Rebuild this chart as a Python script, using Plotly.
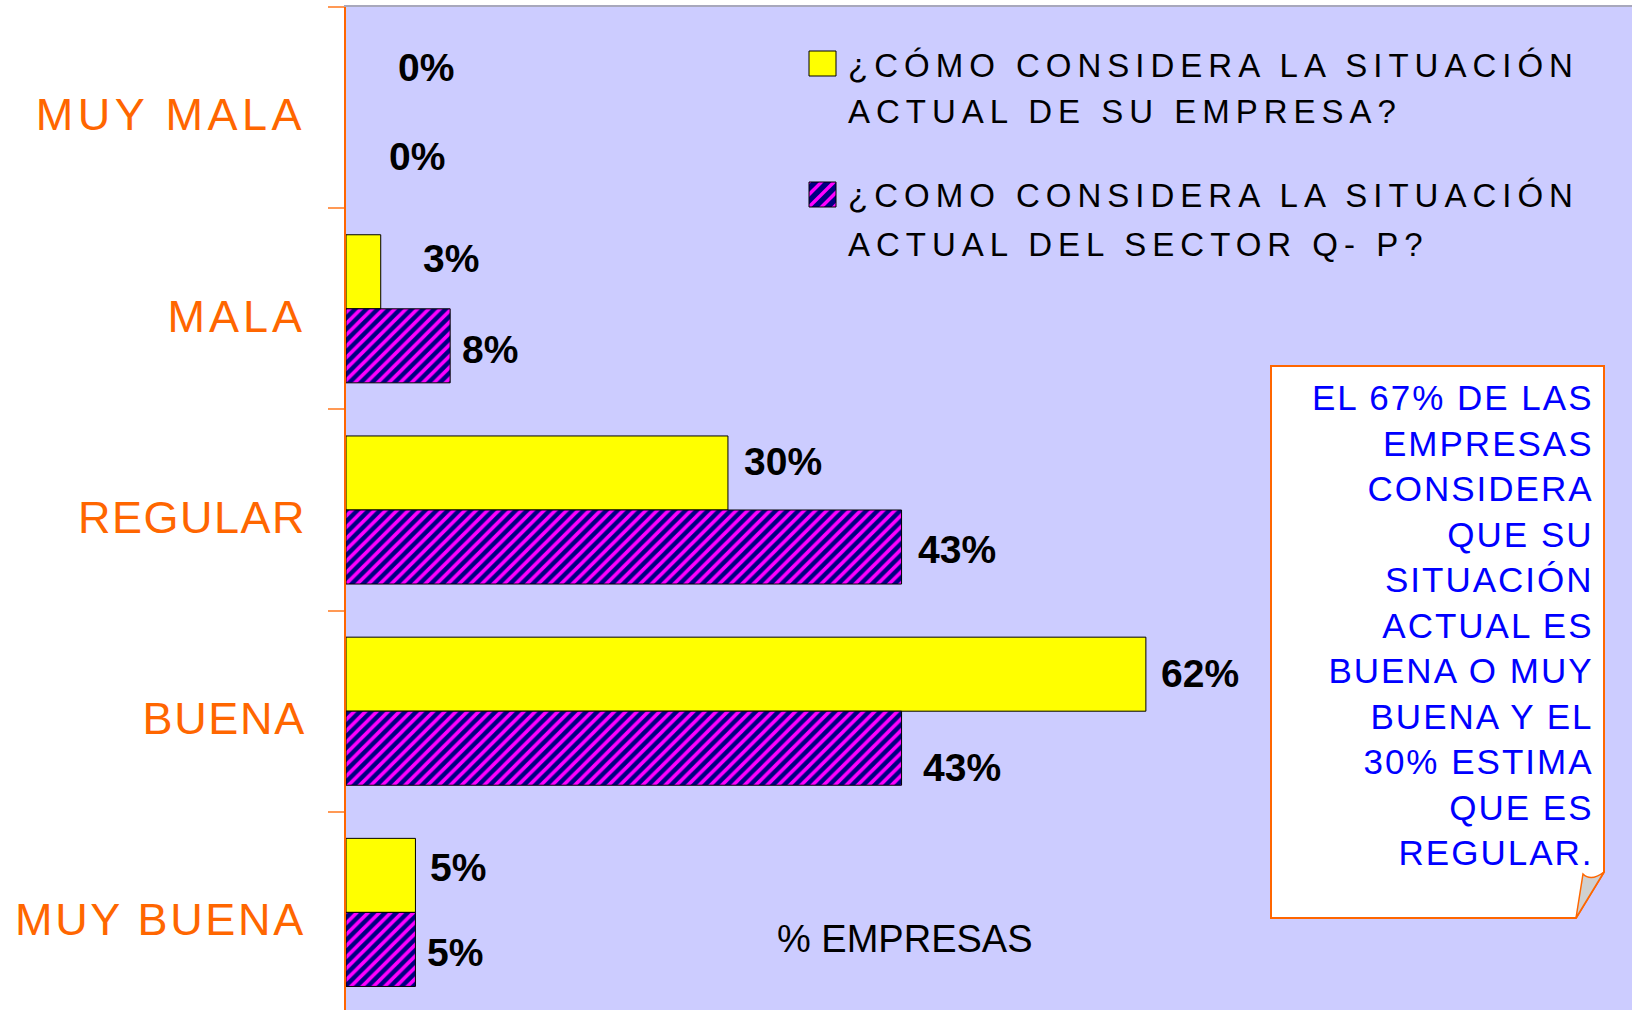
import plotly.graph_objects as go

# ---------------- data ----------------
categories = ["MUY MALA", "MALA", "REGULAR", "BUENA", "MUY BUENA"]
empresa_pct = [0.0, 2.7, 29.7, 62.2, 5.4]     # ¿Cómo considera la situación actual de su empresa?
sector_pct = [0.0, 8.1, 43.2, 43.2, 5.4]      # ¿Como considera la situación actual del sector Q-P?
legend_lines_empresa = ["¿CÓMO CONSIDERA LA SITUACIÓN", "ACTUAL DE SU EMPRESA?"]
legend_lines_sector = ["¿COMO CONSIDERA LA SITUACIÓN", "ACTUAL DEL SECTOR Q- P?"]
note_lines = ["EL 67% DE LAS", "EMPRESAS", "CONSIDERA", "QUE SU", "SITUACIÓN",
              "ACTUAL ES", "BUENA O MUY", "BUENA Y EL", "30% ESTIMA", "QUE ES", "REGULAR."]
axis_title = "% EMPRESAS"

# ---------------- layout constants (pixels) ----------------
W, H = 1632, 1010
PLOT_L, PLOT_T = 346, 7
FONT = "Liberation Sans, Arial, sans-serif"
YELLOW, NAVY, MAGENTA, BG = "#FFFF00", "#000080", "#FF00FF", "#CCCCFF"
ORANGE = "#FF6600"

def px(x):
    return x / W

def py(y):
    return 1 - y / H

def spaced(text, sp):
    return f'<span style="letter-spacing:{sp}px">{text}</span>'

# tick label letter spacing (px) per category
tick_spacing = [4.5, 4.0, 1.5, 1.7, 2.7]

# label nudges (pixels): horizontal gap from bar end, vertical offset from bar centre (down +)
emp_dx = [50, 40, 14, 13, 13]
emp_dy = [-3, -13, -12, -1, -8]
sec_dx = [41, 10, 14, 19, 10]
sec_dy = [12, 4, 2, 19, 3]
HALF_BAR = 37

fig = go.Figure()
fig.add_trace(go.Bar(
    y=categories, x=empresa_pct, orientation="h", name=" ".join(legend_lines_empresa),
    marker=dict(color=YELLOW,
                line=dict(color="black", width=[0 if v == 0 else 1 for v in empresa_pct])),
    showlegend=False,
))
fig.add_trace(go.Bar(
    y=categories, x=sector_pct, orientation="h", name=" ".join(legend_lines_sector),
    marker=dict(color=NAVY,
                line=dict(color="black", width=[0 if v == 0 else 1 for v in sector_pct]),
                pattern=dict(shape="/", fgcolor=MAGENTA, bgcolor=NAVY, size=8, solidity=0.45)),
    showlegend=False,
))

annotations = []
for cat, v, dx, dy in zip(categories, empresa_pct, emp_dx, emp_dy):
    annotations.append(dict(x=v, y=cat, xref="x", yref="y", text=f"<b>{v:.0f}%</b>",
                            showarrow=False, xanchor="left", yanchor="middle",
                            xshift=dx, yshift=HALF_BAR - dy,
                            font=dict(family=FONT, size=39, color="black")))
for cat, v, dx, dy in zip(categories, sector_pct, sec_dx, sec_dy):
    annotations.append(dict(x=v, y=cat, xref="x", yref="y", text=f"<b>{v:.0f}%</b>",
                            showarrow=False, xanchor="left", yanchor="middle",
                            xshift=dx, yshift=-HALF_BAR - dy,
                            font=dict(family=FONT, size=39, color="black")))

# legend text
for line, yc in zip(legend_lines_empresa + legend_lines_sector, [65, 112, 196, 244]):
    annotations.append(dict(x=px(846), y=py(yc), xref="paper", yref="paper",
                            text=spaced(line, 6.0), showarrow=False,
                            xanchor="left", yanchor="middle",
                            font=dict(family=FONT, size=33, color="black")))

# axis title inside plot
annotations.append(dict(x=px(905), y=py(939), xref="paper", yref="paper", text=axis_title,
                        showarrow=False, xanchor="center", yanchor="middle",
                        font=dict(family=FONT, size=38, color="black")))

# note box text
annotations.append(dict(x=px(1596), y=py(625), xref="paper", yref="paper",
                        text=spaced("<br>".join(note_lines), 2), align="right",
                        showarrow=False, xanchor="right", yanchor="middle",
                        font=dict(family=FONT, size=35, color="#0000FF")))

shapes = []
# legend swatch 1 (yellow)
shapes.append(dict(type="rect", xref="paper", yref="paper",
                   x0=px(809), x1=px(836), y0=py(76), y1=py(51),
                   fillcolor=YELLOW, line=dict(color="black", width=1)))

# legend swatch 2 (hatched) built from clipped stripe polygons
sx0, sx1, sy0, sy1 = 809, 836, 182, 207
shapes.append(dict(type="rect", xref="paper", yref="paper",
                   x0=px(sx0), x1=px(sx1), y0=py(sy1), y1=py(sy0),
                   fillcolor=NAVY, line=dict(width=0)))

def clip(poly, f):
    out = []
    n = len(poly)
    for i in range(n):
        cur, prev = poly[i], poly[i - 1]
        fc, fp = f(cur), f(prev)
        if fc >= 0:
            if fp < 0:
                t = fp / (fp - fc)
                out.append((prev[0] + t * (cur[0] - prev[0]), prev[1] + t * (cur[1] - prev[1])))
            out.append(cur)
        elif fp >= 0:
            t = fp / (fp - fc)
            out.append((prev[0] + t * (cur[0] - prev[0]), prev[1] + t * (cur[1] - prev[1])))
    return out

square = [(sx0, sy0), (sx1, sy0), (sx1, sy1), (sx0, sy1)]
period, stripe = 12.5, 4.8
smin, smax = sx0 + sy0, sx1 + sy1
c = smin - stripe / 2
while c < smax:
    lo, hi = c, c + stripe
    poly = clip(square, lambda p, lo=lo: p[0] + p[1] - lo)
    poly = clip(poly, lambda p, hi=hi: hi - (p[0] + p[1]))
    if len(poly) >= 3:
        path = "M " + " L ".join(f"{px(x):.6f},{py(y):.6f}" for x, y in poly) + " Z"
        shapes.append(dict(type="path", xref="paper", yref="paper", path=path,
                           fillcolor=MAGENTA, line=dict(width=0)))
    c += period
shapes.append(dict(type="rect", xref="paper", yref="paper",
                   x0=px(sx0), x1=px(sx1), y0=py(sy1), y1=py(sy0),
                   fillcolor="rgba(0,0,0,0)", line=dict(color="black", width=1)))

# note box with folded corner
bx0, bx1, by0, by1 = 1271, 1604, 366, 918
fold_x, fold_y = 1576, 872
box_path = (f"M {px(bx0)},{py(by0)} L {px(bx1)},{py(by0)} L {px(bx1)},{py(fold_y)} "
            f"L {px(fold_x)},{py(by1)} L {px(bx0)},{py(by1)} Z")
shapes.append(dict(type="path", xref="paper", yref="paper", path=box_path,
                   fillcolor="white", line=dict(color=ORANGE, width=2), layer="below"))
fold_path = (f"M {px(1583)},{py(874)} Q {px(1591)},{py(882)} {px(bx1)},{py(fold_y)} "
             f"L {px(fold_x)},{py(by1)} Z")
shapes.append(dict(type="path", xref="paper", yref="paper", path=fold_path,
                   fillcolor="#D0D0D0", line=dict(color=ORANGE, width=1.5)))

cat_px = (H - PLOT_T) / 201.2  # number of categories visible

fig.update_layout(
    template="none",
    width=W, height=H,
    margin=dict(l=0, r=0, t=0, b=0),
    autosize=False,
    paper_bgcolor="white",
    plot_bgcolor=BG,
    barmode="group",
    bargap=0.264,
    bargroupgap=0,
    showlegend=False,
    font=dict(family=FONT),
    annotations=annotations,
    shapes=shapes,
    xaxis=dict(domain=[px(PLOT_L), 1], range=[0, 100], side="top",
               showline=True, linecolor="#A8A8BC", linewidth=2,
               showticklabels=False, ticks="", showgrid=False, zeroline=False,
               automargin=False, fixedrange=True),
    yaxis=dict(domain=[0, py(PLOT_T)], range=[-0.5 + cat_px, -0.5],
               tickmode="array", tickvals=categories,
               ticktext=[spaced(c, s) for c, s in zip(categories, tick_spacing)],
               tickson="boundaries", ticks="outside", ticklen=16, tickwidth=1.5,
               tickcolor="#FF9955", showline=True, linecolor=ORANGE, linewidth=2,
               ticklabelstandoff=29, ticklabelshift=-7,
               tickfont=dict(family=FONT, size=45, color=ORANGE),
               showgrid=False, zeroline=False, automargin=False, fixedrange=True),
)

fig.write_html("out.html", config={"displayModeBar": False},
               post_script="document.body.style.margin='0';document.body.style.overflow='hidden';")
